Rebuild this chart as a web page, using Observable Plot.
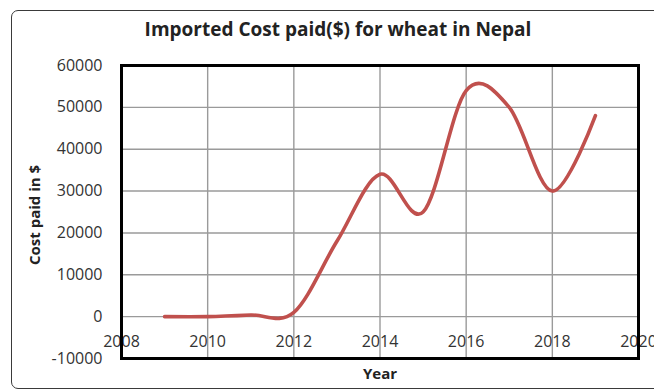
<!DOCTYPE html>
<html>
<head>
<meta charset="utf-8">
<script src="https://cdn.jsdelivr.net/npm/d3@7"></script>
<script src="https://cdn.jsdelivr.net/npm/@observablehq/plot@0.6"></script>
<style>
  html, body { margin: 0; padding: 0; background: #fff; }
  #chart { position: relative; width: 654px; height: 390px; overflow: hidden; }
  #chart .outline {
    position: absolute; left: 11px; top: 10px; width: 660px; height: 379px;
    border: 1px solid #3a3a3a; border-radius: 7px; box-sizing: border-box;
  }
  #chart svg { position: absolute; left: 0; top: 0; }
</style>
</head>
<body>
<div id="chart"><div class="outline"></div></div>
<script>
// Imported cost paid ($) for wheat in Nepal, by year
const years = [2009, 2010, 2011, 2012, 2013, 2014, 2015, 2016, 2017, 2018, 2019];
const costs = [0, 0, 400, 1000, 18000, 34000, 25000, 54000, 50000, 30000, 48000];

const xTicks = [2008, 2010, 2012, 2014, 2016, 2018, 2020];
const yTicks = [-10000, 0, 10000, 20000, 30000, 40000, 50000, 60000];

const title = "Imported Cost paid($) for wheat in Nepal";
const xLabel = "Year";
const yLabel = "Cost paid in $";

const data = years.map((year, i) => ({year, cost: costs[i]}));

const chart = Plot.plot({
  width: 654,
  height: 390,
  marginLeft: 121,
  marginRight: 16,
  marginTop: 65,
  marginBottom: 32,
  style: {fontFamily: "'Open Sans', sans-serif", color: "#333", background: "transparent"},
  x: {domain: [2008, 2020], axis: null},
  y: {domain: [-10000, 60000], axis: null},
  marks: [
    Plot.gridX(xTicks.slice(1, -1), {stroke: "#9a9a9a", strokeOpacity: 1, strokeWidth: 1.4}),
    Plot.gridY(yTicks.slice(1, -1), {stroke: "#9a9a9a", strokeOpacity: 1, strokeWidth: 1.4}),
    Plot.axisY(yTicks, {
      anchor: "left", tickSize: 0, tickPadding: 19, label: null,
      tickFormat: d => String(d), fontSize: 16, fill: "#333"
    }),
    // year labels sit just below the zero line
    Plot.text(xTicks, {
      x: d => d, y: () => 0, dy: 25, text: d => String(d),
      fontSize: 16, fill: "#333", lineAnchor: "middle"
    }),
    Plot.line(data, {
      x: "year", y: "cost", curve: "cardinal", tension: 0,
      stroke: "#C0504D", strokeWidth: 3.6, strokeLinecap: "round"
    }),
    Plot.frame({stroke: "#000", strokeWidth: 3}),
    Plot.text([title], {
      frameAnchor: "top", dx: -42, dy: -36, text: d => d,
      fontSize: 19, fontWeight: "bold", fill: "#222", lineAnchor: "middle"
    }),
    Plot.text([yLabel], {
      frameAnchor: "left", textAnchor: "middle", dx: -86, dy: 3, rotate: -90, text: d => d,
      fontSize: 15, fontWeight: "bold", fill: "#222", lineAnchor: "middle"
    }),
    Plot.text([xLabel], {
      frameAnchor: "bottom", dy: 16, text: d => d,
      fontSize: 15, fontWeight: "bold", fill: "#222", lineAnchor: "middle"
    })
  ]
});

document.getElementById("chart").appendChild(chart);
</script>
</body>
</html>
